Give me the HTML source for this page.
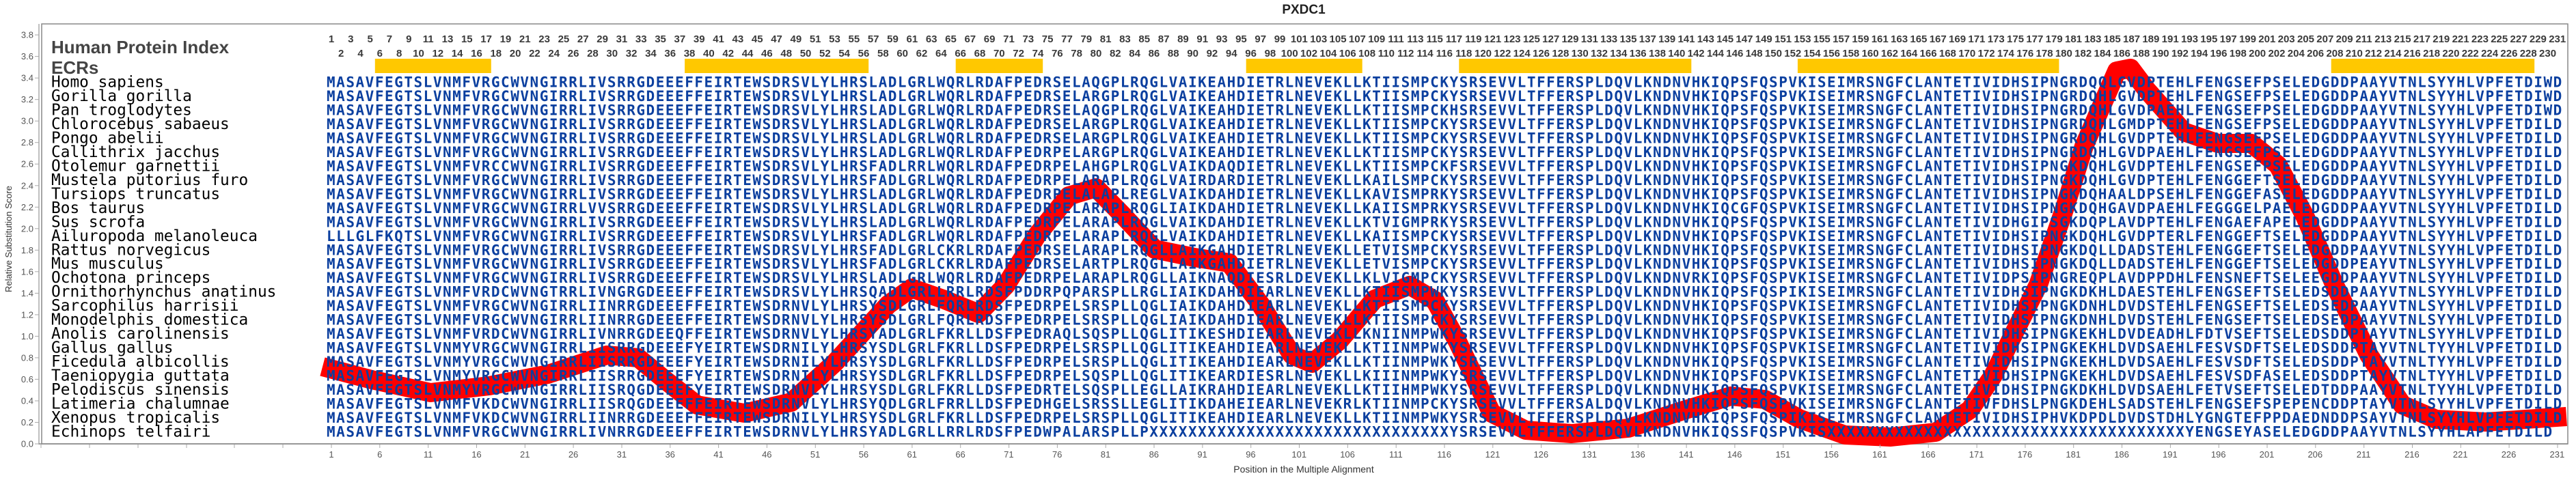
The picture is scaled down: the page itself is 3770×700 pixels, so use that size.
<!DOCTYPE html>
<html><head><meta charset="utf-8">
<style>
html,body{margin:0;padding:0;background:#fff;}
#wrap{position:relative;width:3770px;height:700px;overflow:hidden;}
svg{position:absolute;left:0;top:0;}
.nums{position:absolute;display:flex;font:bold 15px "Liberation Sans",sans-serif;color:#3a3a3a;white-space:nowrap;}
.nums span{display:block;text-align:center;flex:none;}
.odd span,.even span{width:28.33px;}
.ticks{position:absolute;display:flex;font:13px "Liberation Sans",sans-serif;color:#555;top:658px;left:449.59px;}
.ticks span{display:block;width:70.825px;text-align:center;flex:none;}
.seq{font-family:"DejaVu Sans Mono","Liberation Mono",monospace;font-weight:bold;font-size:21px;letter-spacing:1.525px;fill:#0b3f9f;white-space:pre;}
.sp{font-family:"DejaVu Sans Mono","Liberation Mono",monospace;font-size:22.8px;fill:#000;}
.yl{font:13px "Liberation Sans",sans-serif;fill:#555;text-anchor:end;}
</style></head><body><div id="wrap">
<svg width="3770" height="700" xmlns="http://www.w3.org/2000/svg">
<text x="1908" y="20" text-anchor="middle" style="font:bold 19px 'Liberation Sans',sans-serif;fill:#222">PXDC1</text>
<rect x="61" y="35" width="3697" height="615" fill="none" stroke="#888" stroke-width="1.5"/>
<line x1="57" y1="35" x2="57" y2="651" stroke="#aaa" stroke-width="1.5"/>
<line x1="57" y1="650" x2="3758" y2="650" stroke="#888" stroke-width="1.5"/>
<g stroke="#aaa" stroke-width="1">
<line x1="51" y1="650" x2="57" y2="650"/><line x1="51" y1="618.5" x2="57" y2="618.5"/><line x1="51" y1="587" x2="57" y2="587"/><line x1="51" y1="555.4" x2="57" y2="555.4"/><line x1="51" y1="523.9" x2="57" y2="523.9"/><line x1="51" y1="492.4" x2="57" y2="492.4"/><line x1="51" y1="460.9" x2="57" y2="460.9"/><line x1="51" y1="429.4" x2="57" y2="429.4"/><line x1="51" y1="397.8" x2="57" y2="397.8"/><line x1="51" y1="366.3" x2="57" y2="366.3"/><line x1="51" y1="334.8" x2="57" y2="334.8"/><line x1="51" y1="303.3" x2="57" y2="303.3"/><line x1="51" y1="271.8" x2="57" y2="271.8"/><line x1="51" y1="240.2" x2="57" y2="240.2"/><line x1="51" y1="208.7" x2="57" y2="208.7"/><line x1="51" y1="177.2" x2="57" y2="177.2"/><line x1="51" y1="145.7" x2="57" y2="145.7"/><line x1="51" y1="114.2" x2="57" y2="114.2"/><line x1="51" y1="82.6" x2="57" y2="82.6"/><line x1="51" y1="51.1" x2="57" y2="51.1"/>
</g>
<g class="yl">
<text x="49" y="654.5" class="yl">0.0</text><text x="49" y="623" class="yl">0.2</text><text x="49" y="591.5" class="yl">0.4</text><text x="49" y="560" class="yl">0.6</text><text x="49" y="528.4" class="yl">0.8</text><text x="49" y="496.9" class="yl">1.0</text><text x="49" y="465.4" class="yl">1.2</text><text x="49" y="433.9" class="yl">1.4</text><text x="49" y="402.3" class="yl">1.6</text><text x="49" y="370.8" class="yl">1.8</text><text x="49" y="339.3" class="yl">2.0</text><text x="49" y="307.8" class="yl">2.2</text><text x="49" y="276.3" class="yl">2.4</text><text x="49" y="244.7" class="yl">2.6</text><text x="49" y="213.2" class="yl">2.8</text><text x="49" y="181.7" class="yl">3.0</text><text x="49" y="150.2" class="yl">3.2</text><text x="49" y="118.7" class="yl">3.4</text><text x="49" y="87.1" class="yl">3.6</text><text x="49" y="55.6" class="yl">3.8</text>
</g>
<text transform="translate(17,350) rotate(-90)" text-anchor="middle" style="font:13px 'Liberation Sans',sans-serif;fill:#333">Relative Substitution Score</text>
<text x="1908" y="692" text-anchor="middle" style="font:14px 'Liberation Sans',sans-serif;fill:#333">Position in the Multiple Alignment</text>
<g stroke="#aaa" stroke-width="1">
<line x1="60" y1="651" x2="60" y2="656"/><line x1="131" y1="651" x2="131" y2="656"/><line x1="202" y1="651" x2="202" y2="656"/><line x1="273" y1="651" x2="273" y2="656"/><line x1="343" y1="651" x2="343" y2="656"/><line x1="414" y1="651" x2="414" y2="656"/>
</g>
<g fill="#ffc800">
<rect x="548.8" y="86" width="170" height="21"/>
<rect x="1002.1" y="86" width="269.1" height="21"/>
<rect x="1398.7" y="86" width="127.5" height="21"/>
<rect x="1823.7" y="86" width="170" height="21"/>
<rect x="2135.3" y="86" width="340" height="21"/>
<rect x="2630.9" y="86" width="382.5" height="21"/>
<rect x="3411.7" y="86" width="297.5" height="21"/>
</g>
<text x="75" y="78" style="font:bold 26px 'Liberation Sans',sans-serif;fill:#444">Human Protein Index</text>
<text x="75" y="108" style="font:bold 26px 'Liberation Sans',sans-serif;fill:#444">ECRs</text>
<polyline fill="none" stroke="#ff0000" stroke-width="28" stroke-linejoin="round" stroke-linecap="butt" points="472,537 544,556 630,575 716,565 802,548 888,520 934,524 974,557 1020,593 1089,605 1158,589 1221,532 1300,446 1334,422 1380,438 1432,459 1472,418 1518,344 1564,287 1604,275 1644,316 1690,365 1748,377 1799,385 1845,446 1891,520 1920,532 1960,499 2012,438 2063,418 2100,440 2133,500 2183,605 2233,630 2300,635 2383,627 2467,600 2533,580 2583,585 2633,613 2700,637 2767,640 2833,633 2883,600 2917,550 2950,483 2983,417 3020,310 3050,214 3098,104 3118,100 3142,132 3196,193 3246,210 3295,210 3334,242 3373,316 3417,418 3467,520 3516,593 3565,614 3638,618 3756,610"/>
<g class="sp">
<text x="75" y="127.5">Homo sapiens</text>
<text x="75" y="148">Gorilla gorilla</text>
<text x="75" y="168.4">Pan troglodytes</text>
<text x="75" y="188.9">Chlorocebus sabaeus</text>
<text x="75" y="209.4">Pongo abelii</text>
<text x="75" y="229.9">Callithrix jacchus</text>
<text x="75" y="250.4">Otolemur garnettii</text>
<text x="75" y="270.9">Mustela putorius furo</text>
<text x="75" y="291.3">Tursiops truncatus</text>
<text x="75" y="311.8">Bos taurus</text>
<text x="75" y="332.3">Sus scrofa</text>
<text x="75" y="352.8">Ailuropoda melanoleuca</text>
<text x="75" y="373.3">Rattus norvegicus</text>
<text x="75" y="393.7">Mus musculus</text>
<text x="75" y="414.2">Ochotona princeps</text>
<text x="75" y="434.7">Ornithorhynchus anatinus</text>
<text x="75" y="455.2">Sarcophilus harrisii</text>
<text x="75" y="475.7">Monodelphis domestica</text>
<text x="75" y="496.1">Anolis carolinensis</text>
<text x="75" y="516.6">Gallus gallus</text>
<text x="75" y="537.1">Ficedula albicollis</text>
<text x="75" y="557.6">Taeniopygia guttata</text>
<text x="75" y="578.1">Pelodiscus sinensis</text>
<text x="75" y="598.5">Latimeria chalumnae</text>
<text x="75" y="619">Xenopus tropicalis</text>
<text x="75" y="639.5">Echinops telfairi</text>
</g>
<g class="seq">
<text x="478" y="127.5">MASAVFEGTSLVNMFVRGCWVNGIRRLIVSRRGDEEEFFEIRTEWSDRSVLYLHRSLADLGRLWQRLRDAFPEDRSELAQGPLRQGLVAIKEAHDIETRLNEVEKLLKTIISMPCKYSRSEVVLTFFERSPLDQVLKNDNVHKIQPSFQSPVKISEIMRSNGFCLANTETIVIDHSIPNGRDQQLGVDPTEHLFENGSEFPSELEDGDDPAAYVTNLSYYHLVPFETDIWD</text>
<text x="478" y="148">MASAVFEGTSLVNMFVRGCWVNGIRRLIVSRRGDEEEFFEIRTEWSDRSVLYLHRSLADLGRLWQRLRDAFPEDRSELARGPLRQGLVAIKEAHDIETRLNEVEKLLKTIISMPCKYSRSEVVLTFFERSPLDQVLKNDNVHKIQPSFQSPVKISEIMRSNGFCLANTETIVIDHSIPNGRDQHLGVDPTEHLFENGSEFPSELEDGDDPAAYVTNLSYYHLVPFETDIWD</text>
<text x="478" y="168.4">MASAVFEGTSLVNMFVRGCWVNGIRRLIVSRRGDEEEFFEIRTEWSDRSVLYLHRSLADLGRLWQRLRDAFPEDRSELAQGPLRQGLVAIKEAHDIETRLNEVEKLLKTIISMPCKHSRSEVVLTFFERSPLDQVLKNDNVHKIQPSFQSPVKISEIMRSNGFCLANTETIVIDHSIPNGRDQHLGVDPAEHLFENGSEFPSELEDGDDPAAYVTNLSYYHLVPFETDIWD</text>
<text x="478" y="188.9">MASAVFEGTSLVNMFVRGCWVNGIRRLIVSRRGDEEEFFEIRTEWSDRSVLYLHRSLADLGRLWQRLRDAFPEDRSELARGPLRQGLVAIKEAHDIETRLNEVEKLLKTIISMPCKYSRSEVVLTFFERSPLDQVLKNDNVHKIQPSFQSPVKISEIMRSNGFCLANTETIVIDHSIPNGRDQHLGMDPTEHLFENGSEFPSELEDGDDPAAYVTNLSYYHLVPFETDILD</text>
<text x="478" y="209.4">MASAVFEGTSLVNMFVRGCWVNGIRRLIVSRRGDEEEFFEIRTEWSDRSVLYLHRSLADLGRLWQRLRDAFPEDRSELARGPLRQGLVAIKEAHDIETRLNEVEKLLKTIISMPCKYSRSEVVLTFFERSPLDQVLKNDNVHKIQPSFQSPVKISEIMRSNGFCLANTETIVIDHSIPNGRDQHLGVDPTEHLFENGSEFPSELEDGDDPAAYVTNLSYYHLVPFETDILD</text>
<text x="478" y="229.9">MASAVFEGTSLVNMFVRGCWVNGIRRLIVSRRGDEEEFFEIRTEWSDRSVLYLHRSLADLGRLWQRLRDAFPEDRPELARGPLRQGLVAIKEAHDIETRLNEVEKLLKTIISMPCKYSRSEVVLTFFERSPLDQVLKNDNVHKIQPSFQSPVKISEIMRSNGFCLANTETIVIDHSIPNGRDQHLGVDPAEHLFENGSEFPSELEDGDDPAAYVTNLSYYHLVPFETDILD</text>
<text x="478" y="250.4">MASAVFEGTSLVNMFVRCCWVNGIRRLIVSRRGDEEEFFEIRTEWSDRSVLYLHRSFADLRRLWQRLRDAFPEDRPELAHGPLRQGLVAIKDAQDIETRLNEVEKLLKTIISMPCKFSRSEVVLTFFERSPLDQVLKNDNVHKIQPSFQSPVKISEIMRSNGFCLANTETIVIDHSIPNGKDQHLGVDPTEHLFENGSEFPSELEDGDDPAAYVTNLSYYHLVPFETDILD</text>
<text x="478" y="270.9">MASAVFEGTSLVNMFVRGCWVNGIRRLIVSRRGDEEEFFEIRTEWSDRSVLYLHRSFADLGRLWQRLRDAFPEDRPELARAPLRQGLVAIRDARDIETRLNEVEKLLKAILSMPCKYSRSEVVLTFFERSPLDQVLKNDNVHKIQPSFQSPVKISEIMRSNGFCLANTETIVIDHSIPNGKDQHLGVDPTEHLFENGGEFTSELEDGDDPAAYVTNLSYYHLVPFETDILD</text>
<text x="478" y="291.3">MASAVFEGTSLVNMFVRGCWVNGIRRLIVSRRGDEEEFFEIRTEWSDRSVLYLHRSLADLGRLWQRLRDAFPEDRPELALAPLREGLVAIKDAHDIETRLNEVEKLLKAVISMPRKYSRSEVVLTFFERSPLDQVLKNDNVHKIQPSFQSPVKISEIMRSNGFCLANTETIVIDHSIPNGKDQHAALDPSEHLFENGGEFASELEDGDDPAAYVTNLSYYHLVPFETDILD</text>
<text x="478" y="311.8">MASAVFEGTSLVNMFVRGCWVNGIRRLVVSRRGDEEEFFEIRTEWSDRSVLYLHRSLADLGRLWQRLRDAFPEDRPELARAPLRQGLIAIKDAHDIETRLNEVEKLLKAIISMPRKYSRSEVVLTFFERSPLDQVLKNDNVHKIQCGFQSPVKISEIMRSNGFCLANTETIVIDHSIPNGKDQHGAVDPAEHLFEGGGELPAELEDGDDPAAYVTNLSYYHLVPFETDILD</text>
<text x="478" y="332.3">MASAVFEGTSLVNMFVRGCWVNGIRRLIVSRRGDEEEFFEIRTEWSDRSVLYLHRSLADLGRLWQRLRDAFPEDRPELARAPLRQGLVAIKDAHDIETRLNEVEKLLKTVIGMPRKYSRSEVVLTFFERSPLDQVLKNDNVHKIQPSFQSPVKISEIMRSNGFCLANTETIVIDHGIPSGKDQPLAVDPTEHLFENGAEFAPELEDGDDPAAYVTNLSYYHLVPFETDILD</text>
<text x="478" y="352.8">LLLGLFKQTSLVNMFVRGCWVNGIRRLIVSRRGDEEEFFEIRTEWSDRSVLYLHRSFADLGRLWQRLRDAFPEDRPELARAPLRQGLVAIKDAHDIETRLNEVEKLLKAIISMPCKYSRSEVVLTFFERSPLDQVLKNDNVHKIQPSFQSPVKISEIMRSNGFCLANTETIVIDHSIPNGKDQHLGVDPTERLFENGGEFTSELEDGDDPAAYVTNLSYYHLVPFETDILD</text>
<text x="478" y="373.3">MASAVFEGTSLVNMFVRGCWVNGIRRLIVSRRGDEEEFFEIRTEWSDRSVLYLHRSFADLGRLCKRLRDAFPEDRSELARAPLRQGLLAIKGAHDIETRLNEVEKLLETVISMPCKYSRSEVVLTFFERSPLDQVLKNDNVHKIQPSFQSPVKISEIMRSNGFCLANTETIVIDHSIPNGKDQLLDADSTEHLFENGGEFTSELEDGDDPAAYVTNLSYYHLVPFETDILD</text>
<text x="478" y="393.7">MASAVFEGTSLVNMFVRGCWVNGIRRLIVSRRGDEEEFFEIRTEWSDRSVLYLHRSFADLGRLCKRLRDAFPEDRSELARTPLRQGLLAIKGAHDIETRLNEVEKLLETVISMPCKYSRSEVVLTFFERSPLDQVLKNDNVHKIQPSFQSPVKISEIMRSNGFCLANTETIVIDHSIPNGKDQLLDADSTEHLFENGGEFTSELEDGDDPEAYVTNLSYYHLVPFETDILD</text>
<text x="478" y="414.2">MASAVFEGTSLVNMFVRGCWVNGIRRLIVSRRGDEEEFFEIRTEWSDRSVLYLHRSLADLGRLWQRLRDAFPEDRPELARAPLRQGLLAIKNAQDIESRLDEVEKLLKLVIGMPCKYSRSEVVLTFFERSPLDQVLKNDNVRKIQPSFQSPVKISEIMRSNGFCLANTETIVIDPSIPNGREQPLAVDPPDHLFENSNEFTSELEEGDDPAAYVTNLSYYHLVPFETDILD</text>
<text x="478" y="434.7">MASAVFEGTSLVNMFVRDCWVNGTRRLIVNGRGDEEEFFEIRTEWSDRSVLYLHRSQADLGRLLRRLRDSFPDDRPQPARSPLLRGLIAIKDAHDIEARLNEVEKLLKTIISMPWKYSRSEVVLTFFERSPLDQVLKNDNVHKIQPSFQSPIKISEIMRSNGFCLANTETIVIDHSIPNGKDKHLDAESTEHLFENGSEFTSELEDSDDPAAYVTNLSYYHLVPFETDILD</text>
<text x="478" y="455.2">MASAVFEGTSLVNMFVRGCWVNGIRRLIINRRGDEEEFFEIRTEWSDRNVLYLHRSYSDLGRLFQRLRDSFPEDRPELSRSPLLQGLIAIKDAHDIEARLNEVEKLLKTIISMPCKYSRSEVVLTFFERSPLDQVLKNDNVHKIQPSFQSPVKISEIMRSNGFCLANTETIVIDHSIPNGKDNHLDVDSTEHLFENGSEFTSELEDSEDPAAYVTNLSYYHLVPFETDILD</text>
<text x="478" y="475.7">MASAVFEGTSLVNMFVRGCWVNGIRRLIINRRGDEEEFFEIRTEWSDRNVLYLHRSYSDLGRLFQRLRDSFPEDRPELSRSPLLQGLIAIKDAHDIEARLNEVEKLLKTIISMPCKYSRSEVVLTFFERSPLDQVLKNDNVHKIQPSFQSPVKISEIMRSNGFCLANTETIVIDHSIPNGKDNHLDVDSTEHLFENGSEFTSELEDSEDPAAYVTNLSYYHLVPFETDILD</text>
<text x="478" y="496.1">MASAVFEGTSLVNMFVRDCWVNGIRRLIVNRRGDEEQFFEIRTEWSDRNVLYLHRSYADLGRLFKRLLDSFPEDRAQLSQSPLLQGLITIKESHDIEARLNEVEKLLKNIINMPWKYSRSEVVLTFFERSPLDQVLKNDNVHKIQPSFQSPVKISEIMRSNGFCLANTETIVIDHSIPNGKEKHLDVDEADHLFDTVSEFTSELEDSDDPTAYVTNLSYYHLVPFETDILD</text>
<text x="478" y="516.6">MASAVFEGTSLVNMYVRGCWVNGIRRLIISRRGDEEEFYEIRTEWSDRNILYLHRSYSDLGRLFKRLLDSFPEDRPELSRSPLLQGLITIKEAHDIEARLNEVEKLLKTIINMPWKYSRSEVVLTFFERSPLDQVLKNDNVHKIQPSFQSPVKISEIMRSNGFCLANTETIVIDHSIPNGKEKHLDVDSAEHLFESVSDFTSELEDSDDPTAYVTNLTYYHLVPFETDILD</text>
<text x="478" y="537.1">MASAVFEGTSLVNMYVRGCWVNGIRRLIISRRGDEEEFYEIRTEWSDRNILYLHRSYSDLGRLFKRLLDSFPEDRPELSRSPLLQGLITIKEAHDIEARLNEVEKLLKTIINMPWKYSRSEVVLTFFERSPLDQVLKNDNVHKIQPSFQSPVKISEIMRSNGFCLANTETIVIDHSIPNGKEKHLDVDSAEHLFESVSDFTSELEDSDDPTAYVTNLTYYHLVPFETDILD</text>
<text x="478" y="557.6">MASAVFEGTSLVNMYVRGCWVNGIRRLIISRRGDEEEFYEIRTEWSDRNILYLHRSYSDLGRLFKRLLDSFPEDRPELSQSPLLQGLITIKEARDIESRLNEVEKLLKIIINMPWKYSRSEVVLTFFERSPLDQVLKNDNVHKIQPSFQSPVKISEIMRSNGFCLANTETIVIDHSIPNGKEKHLDVDSAEHLFESVSDFASELEDSDDPTAYVTNLTYYHLVPFETDILD</text>
<text x="478" y="578.1">MASAVFEGTSLVNMYVRGCWVNGIRRLIISRQGDEEEFYEIRTEWSDRNVLYLHRSYSDLGRLFKRLLDSFPEDRTELSQSPLLEGLLAIKRAHDIEARLNEVEKLLKTIIHMPWKYSRSEVVLTFFERSPLDQVLKNDNVHKIQPSFQSPVKISEIMRSNGFCLANTETIVIDHSIPNGKDKHLDVDSAEHLFETVSEFTSELEDTDDPAAYVTNLTYYHLVPFETDILD</text>
<text x="478" y="598.5">MASAVFEGTSLVNMFVKDCWVNGIRRLIISRQGDEEEFFEIRTEWSDRNVLYLHRSYQDLGRLFRRLLDSFPEDHGELSRSSLLEGLITIKDAHEIEARLNEVEKRLKTIINMPCKYSRSEVVLTFFERSALDQVLKNDNVHKIQPSFQSPVKISEIMRSNGFCLANTETIVFDHSLPNGKDEHLSADSTEHLFENGSEFSPEPENCDDPTAYVTNLSYYHLVPFETDILD</text>
<text x="478" y="619">MASAVFEGTSLVNMFVKDCWVNGIRRLIINRRGDEEEFFEIRTEWSDRNILYLHRSYSDLGRLFKRLLDSFPEDRPELSRSPLLQGLITIKEAHDIEARLNEVEKLLKTIINMPWKYSRSEVVLTFFERSPLDQVLKNDNVHKIQPSFQSPIKISEIMRSNGFCLANTETIVIDHSIPHVKDPDLDVDSTDHLYGNGTEFPPDAEDNDDPSAYVTNLSYYHLVPFETDILD</text>
<text x="478" y="639.5">MASAVFEGTSLVNMFVRGCWVNGIRRLIVNRRGDEEEFFEIRTEWSDRNVLYLHRSYADLGRLLRRLRDSFPEDWPALARSPLLPXXXXXXXXXXXXXXXXXXXXXXXXXXXXXXXYSRSEVVLTFFERSPLDQVLKNDNVHKIQSSFQSPVKISXXXXXXXXXXXXXXXXXXXXXXXXXXXXXXXXXXXXXYENGSEYASELEDGDDPAAYVTNLSYYHLAPFETDILD</text>
</g>
</svg>
<div class="nums odd" style="left:470.835px;top:49px;"><span>1</span><span>3</span><span>5</span><span>7</span><span>9</span><span>11</span><span>13</span><span>15</span><span>17</span><span>19</span><span>21</span><span>23</span><span>25</span><span>27</span><span>29</span><span>31</span><span>33</span><span>35</span><span>37</span><span>39</span><span>41</span><span>43</span><span>45</span><span>47</span><span>49</span><span>51</span><span>53</span><span>55</span><span>57</span><span>59</span><span>61</span><span>63</span><span>65</span><span>67</span><span>69</span><span>71</span><span>73</span><span>75</span><span>77</span><span>79</span><span>81</span><span>83</span><span>85</span><span>87</span><span>89</span><span>91</span><span>93</span><span>95</span><span>97</span><span>99</span><span>101</span><span>103</span><span>105</span><span>107</span><span>109</span><span>111</span><span>113</span><span>115</span><span>117</span><span>119</span><span>121</span><span>123</span><span>125</span><span>127</span><span>129</span><span>131</span><span>133</span><span>135</span><span>137</span><span>139</span><span>141</span><span>143</span><span>145</span><span>147</span><span>149</span><span>151</span><span>153</span><span>155</span><span>157</span><span>159</span><span>161</span><span>163</span><span>165</span><span>167</span><span>169</span><span>171</span><span>173</span><span>175</span><span>177</span><span>179</span><span>181</span><span>183</span><span>185</span><span>187</span><span>189</span><span>191</span><span>193</span><span>195</span><span>197</span><span>199</span><span>201</span><span>203</span><span>205</span><span>207</span><span>209</span><span>211</span><span>213</span><span>215</span><span>217</span><span>219</span><span>221</span><span>223</span><span>225</span><span>227</span><span>229</span><span>231</span></div>
<div class="nums even" style="left:485px;top:70px;"><span>2</span><span>4</span><span>6</span><span>8</span><span>10</span><span>12</span><span>14</span><span>16</span><span>18</span><span>20</span><span>22</span><span>24</span><span>26</span><span>28</span><span>30</span><span>32</span><span>34</span><span>36</span><span>38</span><span>40</span><span>42</span><span>44</span><span>46</span><span>48</span><span>50</span><span>52</span><span>54</span><span>56</span><span>58</span><span>60</span><span>62</span><span>64</span><span>66</span><span>68</span><span>70</span><span>72</span><span>74</span><span>76</span><span>78</span><span>80</span><span>82</span><span>84</span><span>86</span><span>88</span><span>90</span><span>92</span><span>94</span><span>96</span><span>98</span><span>100</span><span>102</span><span>104</span><span>106</span><span>108</span><span>110</span><span>112</span><span>114</span><span>116</span><span>118</span><span>120</span><span>122</span><span>124</span><span>126</span><span>128</span><span>130</span><span>132</span><span>134</span><span>136</span><span>138</span><span>140</span><span>142</span><span>144</span><span>146</span><span>148</span><span>150</span><span>152</span><span>154</span><span>156</span><span>158</span><span>160</span><span>162</span><span>164</span><span>166</span><span>168</span><span>170</span><span>172</span><span>174</span><span>176</span><span>178</span><span>180</span><span>182</span><span>184</span><span>186</span><span>188</span><span>190</span><span>192</span><span>194</span><span>196</span><span>198</span><span>200</span><span>202</span><span>204</span><span>206</span><span>208</span><span>210</span><span>212</span><span>214</span><span>216</span><span>218</span><span>220</span><span>222</span><span>224</span><span>226</span><span>228</span><span>230</span></div>
<div class="ticks"><span>1</span><span>6</span><span>11</span><span>16</span><span>21</span><span>26</span><span>31</span><span>36</span><span>41</span><span>46</span><span>51</span><span>56</span><span>61</span><span>66</span><span>71</span><span>76</span><span>81</span><span>86</span><span>91</span><span>96</span><span>101</span><span>106</span><span>111</span><span>116</span><span>121</span><span>126</span><span>131</span><span>136</span><span>141</span><span>146</span><span>151</span><span>156</span><span>161</span><span>166</span><span>171</span><span>176</span><span>181</span><span>186</span><span>191</span><span>196</span><span>201</span><span>206</span><span>211</span><span>216</span><span>221</span><span>226</span><span>231</span></div>
<svg width="3770" height="700" style="pointer-events:none">
<g stroke="#aaa" stroke-width="1">
<line x1="485" y1="651" x2="485" y2="656"/><line x1="555.8" y1="651" x2="555.8" y2="656"/><line x1="626.7" y1="651" x2="626.7" y2="656"/><line x1="697.5" y1="651" x2="697.5" y2="656"/><line x1="768.3" y1="651" x2="768.3" y2="656"/><line x1="839.1" y1="651" x2="839.1" y2="656"/><line x1="910" y1="651" x2="910" y2="656"/><line x1="980.8" y1="651" x2="980.8" y2="656"/><line x1="1051.6" y1="651" x2="1051.6" y2="656"/><line x1="1122.4" y1="651" x2="1122.4" y2="656"/><line x1="1193.3" y1="651" x2="1193.3" y2="656"/><line x1="1264.1" y1="651" x2="1264.1" y2="656"/><line x1="1334.9" y1="651" x2="1334.9" y2="656"/><line x1="1405.7" y1="651" x2="1405.7" y2="656"/><line x1="1476.6" y1="651" x2="1476.6" y2="656"/><line x1="1547.4" y1="651" x2="1547.4" y2="656"/><line x1="1618.2" y1="651" x2="1618.2" y2="656"/><line x1="1689" y1="651" x2="1689" y2="656"/><line x1="1759.9" y1="651" x2="1759.9" y2="656"/><line x1="1830.7" y1="651" x2="1830.7" y2="656"/><line x1="1901.5" y1="651" x2="1901.5" y2="656"/><line x1="1972.3" y1="651" x2="1972.3" y2="656"/><line x1="2043.2" y1="651" x2="2043.2" y2="656"/><line x1="2114" y1="651" x2="2114" y2="656"/><line x1="2184.8" y1="651" x2="2184.8" y2="656"/><line x1="2255.6" y1="651" x2="2255.6" y2="656"/><line x1="2326.5" y1="651" x2="2326.5" y2="656"/><line x1="2397.3" y1="651" x2="2397.3" y2="656"/><line x1="2468.1" y1="651" x2="2468.1" y2="656"/><line x1="2538.9" y1="651" x2="2538.9" y2="656"/><line x1="2609.8" y1="651" x2="2609.8" y2="656"/><line x1="2680.6" y1="651" x2="2680.6" y2="656"/><line x1="2751.4" y1="651" x2="2751.4" y2="656"/><line x1="2822.2" y1="651" x2="2822.2" y2="656"/><line x1="2893.1" y1="651" x2="2893.1" y2="656"/><line x1="2963.9" y1="651" x2="2963.9" y2="656"/><line x1="3034.7" y1="651" x2="3034.7" y2="656"/><line x1="3105.5" y1="651" x2="3105.5" y2="656"/><line x1="3176.4" y1="651" x2="3176.4" y2="656"/><line x1="3247.2" y1="651" x2="3247.2" y2="656"/><line x1="3318" y1="651" x2="3318" y2="656"/><line x1="3388.8" y1="651" x2="3388.8" y2="656"/><line x1="3459.7" y1="651" x2="3459.7" y2="656"/><line x1="3530.5" y1="651" x2="3530.5" y2="656"/><line x1="3601.3" y1="651" x2="3601.3" y2="656"/><line x1="3672.1" y1="651" x2="3672.1" y2="656"/><line x1="3743" y1="651" x2="3743" y2="656"/>
</g>
</svg>
</div></body></html>
